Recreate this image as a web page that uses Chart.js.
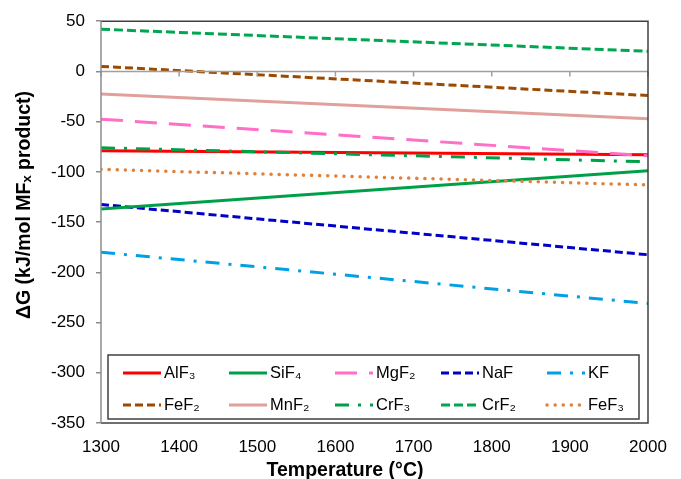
<!DOCTYPE html>
<html>
<head>
<meta charset="utf-8">
<script src="https://cdn.jsdelivr.net/npm/chart.js@4"></script>
<style>
  body { margin: 0; background: #fff; }
</style>
</head>
<body>
<canvas id="chart" width="681" height="479"></canvas>
<script>
// temperatures (°C) at the two ends of each line
const temps = [1300, 2000];

// ΔG values (kJ/mol MFx product) read at 1300 and 2000 °C
const alf3 = [-79, -83];
const sif4 = [-137, -99];
const mgf2 = [-47.5, -84];
const naf = [-132.5, -182.5];
const kf = [-180, -231];
const fef2 = [5, -24];
const mnf2 = [-22.5, -47];
const crf3 = [-76, -90];
const crf2 = [42, 20];
const fef3 = [-97.5, -113];

const xTicks = [1300, 1400, 1500, 1600, 1700, 1800, 1900, 2000];
const yTicks = [50, 0, -50, -100, -150, -200, -250, -300, -350];

const xTitle = 'Temperature (°C)';
const yTitle = 'ΔG (kJ/mol MFₓ product)';

const FONT = '"Liberation Sans", Arial, sans-serif';

function pts(vals) {
  return temps.map((t, i) => ({ x: t, y: vals[i] }));
}

function ds(label, vals, color, dash, cap, width) {
  return {
    label: label,
    data: pts(vals),
    borderColor: color,
    backgroundColor: color,
    borderWidth: width || 3,
    borderDash: dash,
    borderCapStyle: cap || 'butt',
    pointRadius: 0,
    fill: false
  };
}

const datasets = [
  ds('CrF₂', crf2, '#00a650', [9, 4]),
  ds('FeF₂', fef2, '#9c4a00', [8, 4]),
  ds('MnF₂', mnf2, '#e0a09c', []),
  ds('MgF₂', mgf2, '#ff6ec7', [22, 12]),
  ds('CrF₃', crf3, '#00a048', [14, 9, 3, 9]),
  ds('AlF₃', alf3, '#ff0000', []),
  ds('FeF₃', fef3, '#e0823c', [0.1, 8], 'round', 3.5),
  ds('SiF₄', sif4, '#00a048', []),
  ds('NaF', naf, '#0000c8', [8, 4]),
  ds('KF', kf, '#00a0e6', [14, 9, 3, 9])
];

// order the legend entries like the original figure
const legendOrder = ['AlF₃', 'SiF₄', 'MgF₂', 'NaF', 'KF', 'FeF₂', 'MnF₂', 'CrF₃', 'CrF₂', 'FeF₃'];

// zero line with small tick marks, plot frame, axis titles and the boxed legend inside the plot
const framePlugin = {
  id: 'frame',
  afterDatasetsDraw(chart) {
    const ctx = chart.ctx;
    const a = chart.chartArea;
    const xs = chart.scales.x;
    const ys = chart.scales.y;
    ctx.save();

    // zero line
    const y0 = ys.getPixelForValue(0);
    ctx.strokeStyle = '#a0a0a0';
    ctx.lineWidth = 1.5;
    ctx.beginPath();
    ctx.moveTo(a.left, y0);
    ctx.lineTo(a.right, y0);
    xTicks.forEach(t => {
      const px = xs.getPixelForValue(t);
      ctx.moveTo(px, y0);
      ctx.lineTo(px, y0 + 5);
    });
    ctx.stroke();

    // frame: top, right, bottom dark; left is the gray axis line
    ctx.strokeStyle = '#404040';
    ctx.lineWidth = 1.5;
    ctx.beginPath();
    ctx.moveTo(a.left, a.top);
    ctx.lineTo(a.right, a.top);
    ctx.lineTo(a.right, a.bottom);
    ctx.lineTo(a.left, a.bottom);
    ctx.stroke();
    ctx.strokeStyle = '#8c8c8c';
    ctx.beginPath();
    ctx.moveTo(a.left, a.top);
    ctx.lineTo(a.left, a.bottom);
    ctx.stroke();

    // legend box
    const bx = a.left + 7, by = a.bottom - 68;
    const bw = a.right - a.left - 16, bh = 64;
    ctx.fillStyle = '#fff';
    ctx.fillRect(bx, by, bw, bh);
    ctx.strokeStyle = '#404040';
    ctx.lineWidth = 1.5;
    ctx.strokeRect(bx, by, bw, bh);

    ctx.font = '16.5px ' + FONT;
    ctx.textBaseline = 'middle';
    legendOrder.forEach((name, i) => {
      const d = chart.data.datasets.find(s => s.label === name);
      const col = i % 5, row = Math.floor(i / 5);
      const lx = bx + 15 + col * 106;
      const ly = by + 18 + row * 32;
      ctx.strokeStyle = d.borderColor;
      ctx.lineWidth = d.borderWidth;
      ctx.lineCap = d.borderCapStyle;
      ctx.setLineDash(d.borderDash);
      ctx.beginPath();
      ctx.moveTo(lx, ly);
      ctx.lineTo(lx + 38, ly);
      ctx.stroke();
      ctx.setLineDash([]);
      ctx.lineCap = 'butt';
      ctx.fillStyle = '#000';
      ctx.fillText(name, lx + 41, ly);
    });

    // axis titles
    ctx.fillStyle = '#000';
    ctx.font = 'bold 19.5px ' + FONT;
    ctx.textAlign = 'center';
    ctx.textBaseline = 'alphabetic';
    ctx.fillText(xTitle, 345, 476);
    ctx.textBaseline = 'middle';
    ctx.translate(25, 205);
    ctx.rotate(-Math.PI / 2);
    ctx.fillText(yTitle, 0, 0);
    ctx.restore();
  }
};

new Chart(document.getElementById('chart'), {
  type: 'line',
  data: { datasets: datasets },
  options: {
    responsive: false,
    animation: false,
    layout: { padding: { top: 18, right: 33, left: 0, bottom: 0 } },
    plugins: {
      legend: { display: false },
      tooltip: { enabled: false }
    },
    scales: {
      x: {
        type: 'linear',
        min: 1300,
        max: 2000,
        afterBuildTicks: s => { s.ticks = xTicks.map(v => ({ value: v })); },
        afterFit: s => { s.height = 56; },
        grid: { display: false, drawTicks: false },
        border: { display: false },
        ticks: {
          color: '#000',
          font: { family: FONT, size: 17 },
          padding: 14,
          maxRotation: 0,
          callback: v => String(v)
        }
      },
      y: {
        min: -350,
        max: 50,
        afterBuildTicks: s => { s.ticks = yTicks.map(v => ({ value: v })); },
        afterFit: s => { s.width = 101; },
        grid: { drawOnChartArea: false, drawTicks: true, tickLength: 5, color: '#8c8c8c', lineWidth: 1.5 },
        border: { display: false },
        ticks: {
          color: '#000',
          font: { family: FONT, size: 17 },
          padding: 11,
          callback: v => String(v)
        }
      }
    }
  },
  plugins: [framePlugin]
});
</script>
</body>
</html>
